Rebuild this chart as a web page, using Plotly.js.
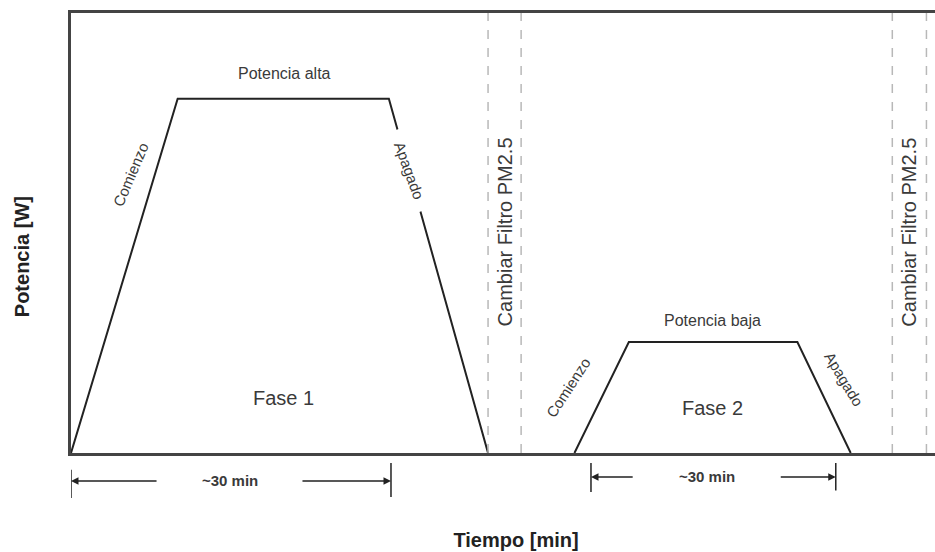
<!DOCTYPE html>
<html>
<head>
<meta charset="utf-8">
<script src="https://cdn.plot.ly/plotly-3.0.1.min.js"></script>
<style>html,body{margin:0;padding:0;background:#fff;overflow:hidden;}#chart{width:961px;height:552px;}</style>
</head>
<body>
<div id="chart"></div>
<script>
// ---- data (time in minutes, power in relative units) ----
var phase1Time = [0, 10.0, 29.8, 39.1];
var phase1Power = [0, 100, 100, 0];
var phase2Time = [47.2, 52.3, 68.1, 73.1];
var phase2Power = [0, 31.3, 31.3, 0];
var filterChangeTimes = [39.1, 42.2, 77.0, 80.2];
var filterLabelTimes = [40.7, 78.6];
var durationSpans = [[0, 30.0], [48.75, 71.7]];
var phaseLabels = ["Fase 1", "Fase 2"];
var levelLabels = ["Potencia alta", "Potencia baja"];
var xRange = [0, 83.44];
var yRange = [0, 124.2];

var lineColor = "#222";
var textColor = "#3a3a3a";
var font = "Liberation Sans, Arial, sans-serif";

var traces = [
  {x: phase1Time, y: phase1Power, mode: "lines", line: {color: lineColor, width: 2}, hoverinfo: "skip"},
  {x: phase2Time, y: phase2Power, mode: "lines", line: {color: lineColor, width: 2}, hoverinfo: "skip"}
];
filterChangeTimes.forEach(function (t) {
  traces.push({x: [t, t], y: yRange, mode: "lines", line: {color: "#b8b8b8", width: 1.5, dash: "dash"}, hoverinfo: "skip"});
});

var ann = [];
function txt(x, y, text, size, angle, extra) {
  var a = {x: x, y: y, xref: "x", yref: "y", text: text, showarrow: false,
    xanchor: "center", yanchor: "middle",
    font: {family: font, size: size, color: textColor}, textangle: angle || 0};
  for (var k in extra) a[k] = extra[k];
  ann.push(a);
}
// phase 1
txt(20.0, 107.0, levelLabels[0], 16, 0);
txt(5.6, 78.6, "Comienzo", 15, -67);
txt(31.7, 79.7, "Apagado", 15, 70, {bgcolor: "#fff", borderpad: 12});
txt(19.9, 15.5, phaseLabels[0], 20, 0);
// phase 2
txt(60.1, 37.5, levelLabels[1], 16, 0);
txt(46.6, 18.6, "Comienzo", 15, -57);
txt(72.5, 20.8, "Apagado", 15, 59);
txt(60.1, 12.7, phaseLabels[1], 20, 0);
// filter change labels
filterLabelTimes.forEach(function (t) {
  txt(t, 62.3, "Cambiar Filtro PM2.5", 20, -90);
});

// duration arrows below axis
var shapes = [];
var spanY = [-0.0636, -0.0545];
var tails = [[8.16, 21.56], [52.8, 66.4]];
var tickTop = [[-0.038, -0.0227], [-0.0227, -0.0227]];
var tickBot = [[-0.102, -0.100], [-0.0886, -0.085]];
durationSpans.forEach(function (s, i) {
  var mid = (tails[i][0] + tails[i][1]) / 2;
  shapes.push({type: "line", xref: "x", yref: "paper", x0: s[0], x1: s[0], y0: tickTop[i][0], y1: tickBot[i][0], line: {color: lineColor, width: 1.5}});
  shapes.push({type: "line", xref: "x", yref: "paper", x0: s[1], x1: s[1], y0: tickTop[i][1], y1: tickBot[i][1], line: {color: lineColor, width: 1.5}});
  ann.push({x: s[0], y: spanY[i], xref: "x", yref: "paper", ax: tails[i][0], ay: 0, axref: "x", ayref: "pixel",
    showarrow: true, arrowhead: 2, arrowsize: 1, arrowwidth: 1.5, arrowcolor: lineColor, text: ""});
  ann.push({x: s[1], y: spanY[i], xref: "x", yref: "paper", ax: tails[i][1], ay: 0, axref: "x", ayref: "pixel",
    showarrow: true, arrowhead: 2, arrowsize: 1, arrowwidth: 1.5, arrowcolor: lineColor, text: ""});
  ann.push({x: mid, y: spanY[i], xref: "x", yref: "paper", xanchor: "center", yanchor: "middle",
    text: "<b>~30 min</b>", showarrow: false, font: {family: font, size: 15, color: textColor}});
});

// y axis title placed as annotation to match the reference position
ann.push({x: 0, y: 0.445, xref: "paper", yref: "paper", xshift: -49, xanchor: "center", yanchor: "middle",
  text: "<b>Potencia [W]</b>", textangle: -90, showarrow: false, font: {family: font, size: 20, color: "#222"}});

var layout = {
  width: 961, height: 552,
  margin: {l: 71, r: 0, t: 13, b: 99},
  paper_bgcolor: "#fff", plot_bgcolor: "#fff",
  showlegend: false,
  xaxis: {range: xRange, showgrid: false, zeroline: false, showticklabels: false, ticks: "",
    showline: true, mirror: true, linecolor: "#444", linewidth: 3, fixedrange: true,
    title: {text: "<b>Tiempo [min]</b>", font: {family: font, size: 20, color: "#222"}, standoff: 78}},
  yaxis: {range: yRange, showgrid: false, zeroline: false, showticklabels: false, ticks: "",
    showline: true, mirror: false, linecolor: "#444", linewidth: 3, fixedrange: true},
  annotations: ann,
  shapes: shapes
};

Plotly.newPlot("chart", traces, layout, {displayModeBar: false, staticPlot: true});
</script>
</body>
</html>
